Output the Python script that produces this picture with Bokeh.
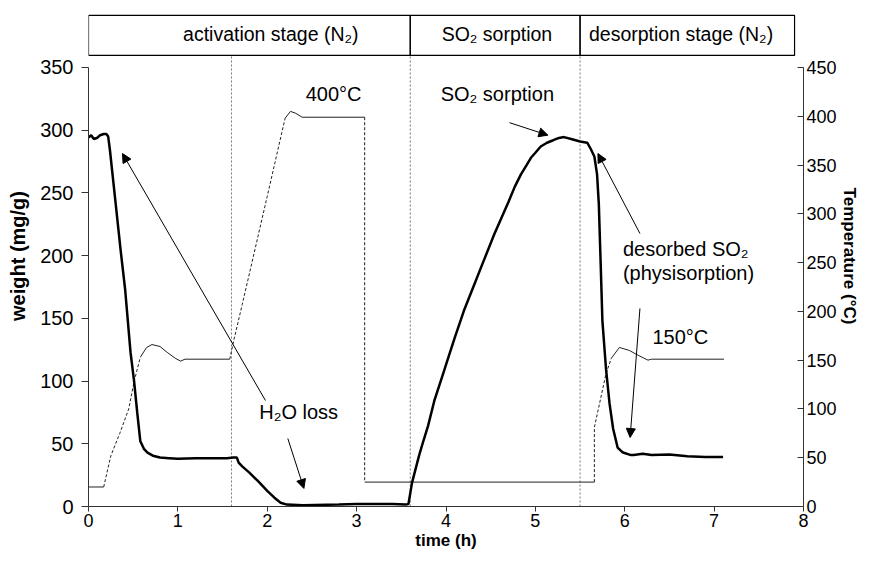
from bokeh.plotting import figure
from bokeh.models import Range1d, LinearAxis, FixedTicker, Arrow, NormalHead, ColumnDataSource
from bokeh.core.properties import value
from bokeh.embed import file_html
from bokeh.resources import INLINE

FONT = "Liberation Sans"

# ---- weight (mg/g) vs time (h) ----
time_h = [0.00, 0.03, 0.06, 0.10, 0.13, 0.17, 0.20, 0.22, 0.24, 0.30, 0.36, 0.41, 0.47,
          0.51, 0.545, 0.58, 0.62, 0.66, 0.72, 0.80, 0.90, 1.00, 1.20, 1.40, 1.55, 1.62, 1.66,
          1.68, 1.72, 1.80, 1.90, 2.00, 2.08, 2.15, 2.22, 2.40, 2.80, 3.00, 3.20, 3.40, 3.55,
          3.58, 3.62, 3.66, 3.70, 3.75, 3.80, 3.87, 3.95, 4.05, 4.10, 4.20, 4.30, 4.40, 4.54,
          4.62, 4.70, 4.77, 4.84, 4.90, 4.95, 5.00, 5.06, 5.13, 5.20, 5.25, 5.32,
          5.40, 5.50, 5.58, 5.62, 5.66, 5.69, 5.71, 5.73, 5.75, 5.79, 5.83, 5.87, 5.92, 5.98, 6.07,
          6.10, 6.20, 6.30, 6.50, 6.70, 6.90, 7.10]
weight = [294, 296, 293, 294, 296, 297, 297, 295, 284, 244, 204, 173, 123,
          100, 75, 52, 46, 43, 40.5, 39, 38.5, 38, 38.5, 38.5, 38.5, 39, 39,
          35, 32, 27, 20, 12.5, 7, 3, 1.5, 1, 1.5, 2, 2, 2, 1.5,
          2, 19, 30, 41, 53, 64.5, 84.5, 102, 124, 135, 156, 174, 192, 217,
          230, 243, 255, 265, 272, 278, 282, 287, 290, 292, 293.5, 294.5,
          293, 291, 290, 285, 279, 265, 241, 195, 148, 110, 82, 62, 47, 43, 41,
          41, 42, 41, 41.5, 40, 39.5, 39.5]

# ---- temperature (°C): solid parts and dashed/dotted transitions ----
temp_solid_t = [[0.00, 0.17],
                [0.58, 0.65, 0.71, 0.80, 0.88, 0.97, 1.03, 1.08, 1.58],
                [2.20, 2.26, 2.32, 2.39, 3.09],
                [3.09, 5.66],
                [5.85, 5.94, 6.05, 6.15, 6.26, 6.30, 7.11]]
temp_solid_v = [[20, 20],
                [153, 163, 166, 164, 158, 152, 149, 151, 151],
                [398, 405, 403, 399, 399],
                [25, 25],
                [152, 163, 160, 155, 150, 151, 151]]
temp_dash_t = [[0.17, 0.25, 0.35, 0.45, 0.51, 0.58],
               [1.58, 1.63, 1.72, 2.00, 2.20],
               [3.09, 3.09],
               [5.66, 5.66, 5.79, 5.85]]
temp_dash_v = [[20, 52, 75, 100, 128, 153],
               [151, 172, 207, 318, 398],
               [399, 25],
               [25, 81, 136, 152]]

# ---- stage boxes ----
stage_start = [0.0, 3.6, 5.5]
stage_end = [3.6, 5.5, 7.9]
stage_label = ["activation stage (N₂)", "SO₂ sorption", "desorption stage (N₂)"]
stage_label_x = [2.04, 4.57, 6.63]
box_bottom, box_top, box_text_y = 359.6, 391.5, 377
divider_t = [1.6, 3.6, 5.5]

# ---- annotations ----
ann_text = ["400°C", "SO₂ sorption", "desorbed SO₂", "(physisorption)", "150°C", "H₂O loss"]
ann_x = [2.43, 3.94, 5.98, 5.98, 6.31, 1.91]
ann_y = [328.5, 329, 205, 186, 135.5, 75]
arrow_x0 = [1.98, 2.23, 4.71, 6.17, 6.17]
arrow_y0 = [84.5, 54.2, 306, 217.6, 157.9]
arrow_x1 = [0.38, 2.41, 5.14, 5.70, 6.06]
arrow_y1 = [281.4, 14.4, 296, 281.4, 55]

x_ticks = [0, 1, 2, 3, 4, 5, 6, 7, 8]
weight_ticks = [0, 50, 100, 150, 200, 250, 300, 350]
temp_ticks = [0, 50, 100, 150, 200, 250, 300, 350, 400, 450]

Y_TOP = 399.4
p = figure(width=861, height=556, x_range=Range1d(0, 8), y_range=Range1d(0, Y_TOP),
           output_backend="svg", toolbar_location=None,
           min_border_left=88, min_border_right=58, min_border_top=5, min_border_bottom=50)
p.extra_y_ranges = {"temp": Range1d(0, Y_TOP * 450 / 350)}
p.grid.visible = False
p.outline_line_color = None

# axes
xa = p.xaxis[0]
xa.ticker = FixedTicker(ticks=x_ticks)
xa.axis_label = "time (h)"
xa.major_tick_in = 0
xa.major_tick_out = 5
xa.major_label_standoff = 2
xa.axis_label_standoff = 1

ya = p.yaxis[0]
ya.ticker = FixedTicker(ticks=weight_ticks)
ya.bounds = (0, 350)
ya.axis_label = "weight (mg/g)"
ya.major_tick_in = 0
ya.major_tick_out = 7
ya.major_label_standoff = 8
ya.axis_label_standoff = 8

ra = LinearAxis(y_range_name="temp", ticker=FixedTicker(ticks=temp_ticks), bounds=(0, 450),
                axis_label="Temperature (°C)")
ra.major_tick_in = 6
ra.major_tick_out = 0
ra.major_label_standoff = 3
ra.axis_label_standoff = 0
p.add_layout(ra, "right")

for ax in [xa, ya, ra]:
    ax.minor_tick_line_color = None
    ax.axis_line_color = "#333333"
    ax.major_tick_line_color = "#333333"
    ax.major_label_text_font = FONT
    ax.major_label_text_color = "black"
    ax.axis_label_text_font = FONT
    ax.axis_label_text_font_style = "bold"
    ax.axis_label_text_color = "black"

xa.major_label_text_font_size = "18px"
ya.major_label_text_font_size = "20px"
ra.major_label_text_font_size = "18px"
xa.axis_label_text_font_size = "17px"
ya.axis_label_text_font_size = "20px"
ra.axis_label_text_font_size = "17px"

# stage dividers and boxes
p.segment(x0=divider_t, y0=[0] * len(divider_t), x1=divider_t, y1=[box_bottom] * len(divider_t),
          line_color="#777777", line_width=1, line_dash="2 2")
p.quad(left=stage_start, right=stage_end, bottom=[box_bottom] * 3, top=[box_top] * 3,
       fill_color=None, line_color="black", line_width=1.2)
p.text(x=stage_label_x, y=[box_text_y] * 3, text=stage_label, text_font=value(FONT),
       text_font_size="19.5px", text_align="center", text_baseline="middle", text_color="black")

# temperature
p.multi_line(xs=temp_solid_t, ys=temp_solid_v, y_range_name="temp",
             line_color="#222222", line_width=1)
p.multi_line(xs=temp_dash_t, ys=temp_dash_v, y_range_name="temp",
             line_color="#222222", line_width=1, line_dash="3 2")

# weight
p.line(time_h, weight, line_color="black", line_width=2.5)

# annotations
p.text(x=ann_x, y=ann_y, text=ann_text, text_font=value(FONT), text_font_size="20px",
       text_align="left", text_baseline="middle", text_color="black")
asrc = ColumnDataSource(dict(x0=arrow_x0, y0=arrow_y0, x1=arrow_x1, y1=arrow_y1))
p.add_layout(Arrow(end=NormalHead(size=9, fill_color="black", line_color="black", line_width=1),
                   x_start="x0", y_start="y0", x_end="x1", y_end="y1", source=asrc,
                   line_color="black", line_width=1))

open("out.html", "w").write(file_html(p, INLINE))
